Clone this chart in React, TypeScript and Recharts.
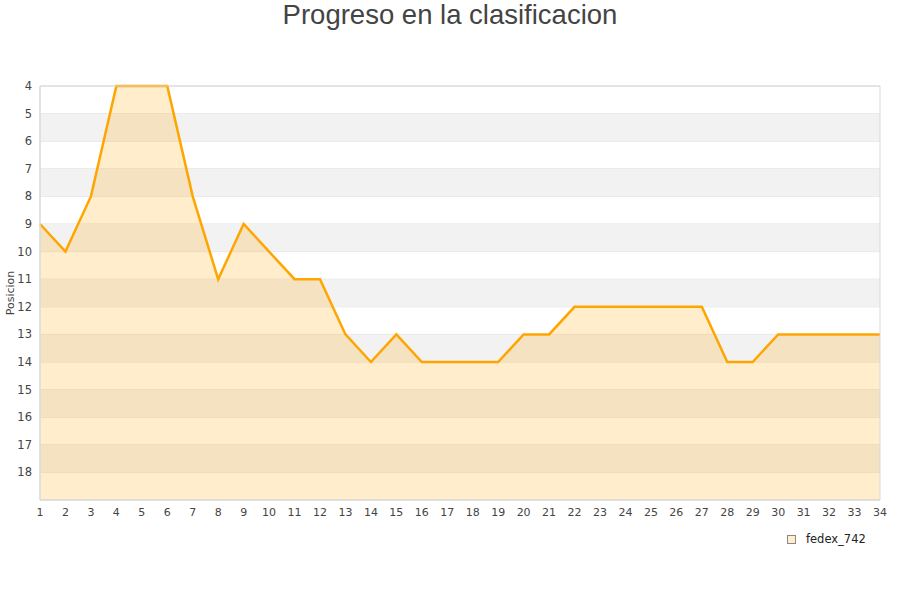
import React from 'react';
import { AreaChart, Area, XAxis, YAxis, CartesianGrid, ReferenceArea } from 'recharts';

// Round numbers (jornadas) and the team's table position after each one
const rounds = [1, 2, 3, 4, 5, 6, 7, 8, 9, 10, 11, 12, 13, 14, 15, 16, 17, 18, 19, 20, 21, 22, 23, 24, 25, 26, 27, 28, 29, 30, 31, 32, 33, 34];
const positions = [9, 10, 8, 4, 4, 4, 8, 11, 9, 10, 11, 11, 13, 14, 13, 14, 14, 14, 14, 13, 13, 12, 12, 12, 12, 12, 12, 14, 14, 13, 13, 13, 13, 13];

const yTicks = [4, 5, 6, 7, 8, 9, 10, 11, 12, 13, 14, 15, 16, 17, 18];
// Shaded horizontal bands (start, end) in position units
const shadedBands: [number, number][] = [[5, 6], [7, 8], [9, 10], [11, 12], [13, 14], [15, 16], [17, 18]];

const seriesName = 'fedex_742';
const title = 'Progreso en la clasificacion';

const data = rounds.map((r, i) => ({ round: r, pos: positions[i] }));

const FONT = '"DejaVu Sans", sans-serif';

export default function App() {
  return (
    <div style={{ position: 'absolute', left: 0, top: 0, width: 900, height: 600, background: '#fff' }}>
      <div
        style={{
          position: 'absolute',
          left: 0,
          top: -2,
          width: 900,
          textAlign: 'center',
          fontFamily: '"Liberation Sans", Arial, sans-serif',
          fontSize: 27.5,
          color: '#444',
          lineHeight: '34px',
        }}
      >
        {title}
      </div>
      <AreaChart width={900} height={600} data={data} margin={{ top: 86, right: 20, left: 0, bottom: 70 }}>
        <CartesianGrid horizontal vertical={false} stroke="#e0e0e0" strokeDasharray="" />
        {shadedBands.map(([a, b]) => (
          <ReferenceArea key={a} y1={a} y2={b} fill="#f2f2f2" fillOpacity={1} stroke="none" ifOverflow="visible" />
        ))}
        <XAxis
          dataKey="round"
          type="number"
          domain={[1, 34]}
          ticks={rounds}
          interval={0}
          tickLine={false}
          axisLine={{ stroke: '#d9d9d9' }}
          tick={{ fill: '#444', fontSize: 11, fontFamily: FONT }}
        />
        <YAxis
          dataKey="pos"
          type="number"
          reversed
          domain={[4, 19]}
          ticks={yTicks}
          interval={0}
          width={40}
          tickLine={false}
          axisLine={{ stroke: '#d9d9d9' }}
          tick={{ fill: '#444', fontSize: 11.5, fontFamily: FONT }}
          label={{ value: 'Posicion', angle: -90, position: 'center', dx: -10, fill: '#444', fontSize: 11, fontFamily: FONT }}
        />
        <Area
          type="linear"
          dataKey="pos"
          baseValue={19}
          stroke="#ffa500"
          strokeWidth={2.5}
          fill="#ffa500"
          fillOpacity={0.2}
          dot={false}
          activeDot={false}
          isAnimationActive={false}
        />
        <ReferenceArea x1={1} x2={34} y1={4} y2={19} fill="none" stroke="#d9d9d9" ifOverflow="visible" />
      </AreaChart>
      <div
        style={{
          position: 'absolute',
          left: 787,
          top: 532,
          display: 'flex',
          alignItems: 'center',
          fontFamily: FONT,
          fontSize: 11.5,
          color: '#222',
        }}
      >
        <span
          style={{
            display: 'inline-block',
            width: 7,
            height: 7,
            background: '#ffedcc',
            border: '1px solid #888',
            marginRight: 10,
          }}
        />
        <span>{seriesName}</span>
      </div>
    </div>
  );
}
